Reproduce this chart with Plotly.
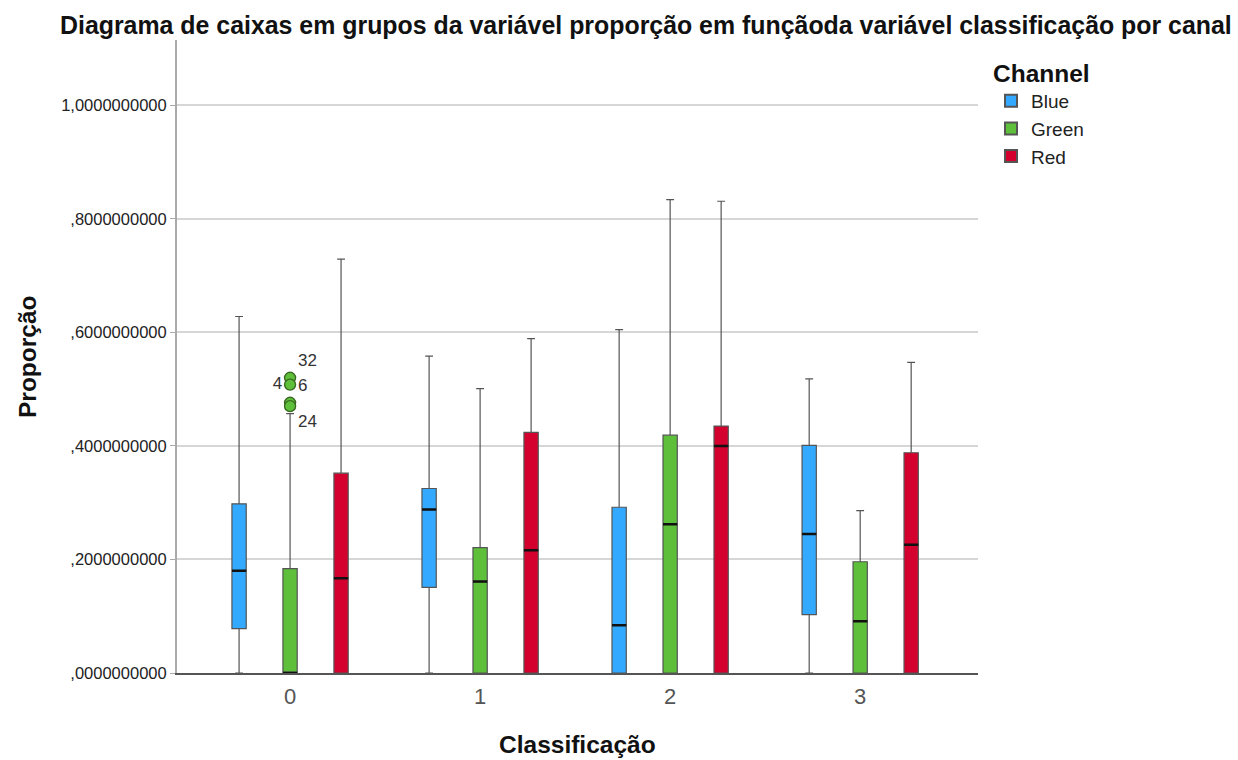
import plotly.graph_objects as go

# Box-plot summary statistics per classification group and channel
categories = ["0", "1", "2", "3"]
channels = ["Blue", "Green", "Red"]
colors = {"Blue": "#33aaff", "Green": "#5dbf3a", "Red": "#d4002e"}

q1 = {
    "Blue":  [0.078, 0.151, 0.000, 0.103],
    "Green": [0.000, 0.000, 0.000, 0.000],
    "Red":   [0.000, 0.000, 0.000, 0.000],
}
median = {
    "Blue":  [0.180, 0.288, 0.084, 0.245],
    "Green": [0.000, 0.161, 0.262, 0.091],
    "Red":   [0.167, 0.216, 0.400, 0.226],
}
q3 = {
    "Blue":  [0.298, 0.325, 0.292, 0.401],
    "Green": [0.184, 0.221, 0.419, 0.196],
    "Red":   [0.352, 0.424, 0.435, 0.388],
}
lower = {
    "Blue":  [0.000, 0.000, 0.000, 0.000],
    "Green": [0.000, 0.000, 0.000, 0.000],
    "Red":   [0.000, 0.000, 0.000, 0.000],
}
upper = {
    "Blue":  [0.628, 0.558, 0.605, 0.518],
    "Green": [0.457, 0.501, 0.834, 0.286],
    "Red":   [0.729, 0.589, 0.831, 0.547],
}

# Outliers of the Green channel in group 0, with case labels
outlier_cat = ["0", "0", "0", "0"]
outlier_val = [0.520, 0.508, 0.476, 0.470]
outlier_lbl = ["32", "4", "6", "24"]
outlier_pos = ["top right", "middle left", "top right", "bottom right"]

y_ticks = [0.0, 0.2, 0.4, 0.6, 0.8, 1.0]
y_ticktext = [",0000000000", ",2000000000", ",4000000000",
              ",6000000000", ",8000000000", "1,0000000000"]

FONT = "Liberation Sans, Arial, sans-serif"
BOLD_SIZE = 24.5

fig = go.Figure()

for ch in channels:
    fig.add_trace(go.Box(
        name=ch,
        x=categories,
        q1=q1[ch], median=median[ch], q3=q3[ch],
        lowerfence=lower[ch], upperfence=upper[ch],
        fillcolor=colors[ch],
        line=dict(color="#555555", width=1.2),
        whiskerwidth=0.55,
        boxpoints=False,
        offsetgroup=ch,
        hoverinfo="skip",
    ))

# Thick black median bars drawn on top of each box
for ch in channels:
    fig.add_trace(go.Box(
        name=ch,
        x=categories,
        q1=median[ch], median=median[ch], q3=median[ch],
        lowerfence=median[ch], upperfence=median[ch],
        fillcolor="rgba(0,0,0,0)",
        line=dict(color="#111111", width=2.5),
        whiskerwidth=0,
        boxpoints=False,
        offsetgroup=ch,
        showlegend=False,
        hoverinfo="skip",
    ))

fig.add_trace(go.Scatter(
    x=outlier_cat, y=outlier_val,
    mode="markers+text",
    text=outlier_lbl,
    textposition=outlier_pos,
    textfont=dict(family=FONT, size=17, color="#333333"),
    marker=dict(size=11, color=colors["Green"],
                line=dict(color="#3a6a22", width=1.4)),
    showlegend=False,
    hoverinfo="skip",
))

fig.update_layout(
    width=1238, height=760,
    margin=dict(l=177, r=260, t=40, b=87),
    paper_bgcolor="white",
    plot_bgcolor="white",
    font=dict(family=FONT, color="#222222"),
    boxmode="group",
    boxgap=0.195,
    boxgroupgap=0.72,
    title=dict(
        text="<b>Diagrama de caixas em grupos da variável proporção em funçãoda variável classificação por canal</b>",
        font=dict(family=FONT, size=24.9, color="#111111"),
        xref="container", x=60 / 1238, xanchor="left",
        yref="container", y=1 - 25 / 760, yanchor="middle",
    ),
    legend=dict(
        title=dict(text="<b>Channel</b>", font=dict(family=FONT, size=BOLD_SIZE, color="#111111")),
        font=dict(family=FONT, size=19, color="#222222"),
        x=(991 - 177) / 801, xanchor="left",
        y=(673 - 50) / 633, yanchor="top",
        bgcolor="rgba(0,0,0,0)",
        tracegroupgap=0,
        itemsizing="constant",
    ),
    showlegend=True,
    annotations=[
        dict(text="<b>Proporção</b>", textangle=-90,
             xref="paper", yref="paper", x=(27 - 177) / 801, y=(673 - 357) / 633,
             xanchor="center", yanchor="middle", showarrow=False,
             font=dict(family=FONT, size=BOLD_SIZE, color="#111111")),
        dict(text="<b>Classificação</b>",
             xref="paper", yref="paper", x=(577 - 177) / 801, y=-(744 - 673) / 633,
             xanchor="center", yanchor="middle", showarrow=False,
             font=dict(family=FONT, size=BOLD_SIZE, color="#111111")),
    ],
)

fig.update_xaxes(
    type="category",
    categoryorder="array", categoryarray=categories,
    range=[-0.595, 3.62],
    showline=True, linecolor="#555555", linewidth=1.5,
    showgrid=False, zeroline=False,
    ticks="outside", ticklen=3, tickcolor="rgba(0,0,0,0)",
    tickfont=dict(family=FONT, size=22, color="#555555"),
)

fig.update_yaxes(
    range=[0, 1.115],
    tickvals=y_ticks, ticktext=y_ticktext,
    showline=True, linecolor="#aaaaaa", linewidth=2,
    showgrid=True, gridcolor="#d6d6d6", gridwidth=1.5,
    zeroline=False,
    ticks="outside", ticklen=5, tickcolor="#aaaaaa",
    tickfont=dict(family=FONT, size=16.5, color="#222222"),
)

fig.write_html("out.html")
